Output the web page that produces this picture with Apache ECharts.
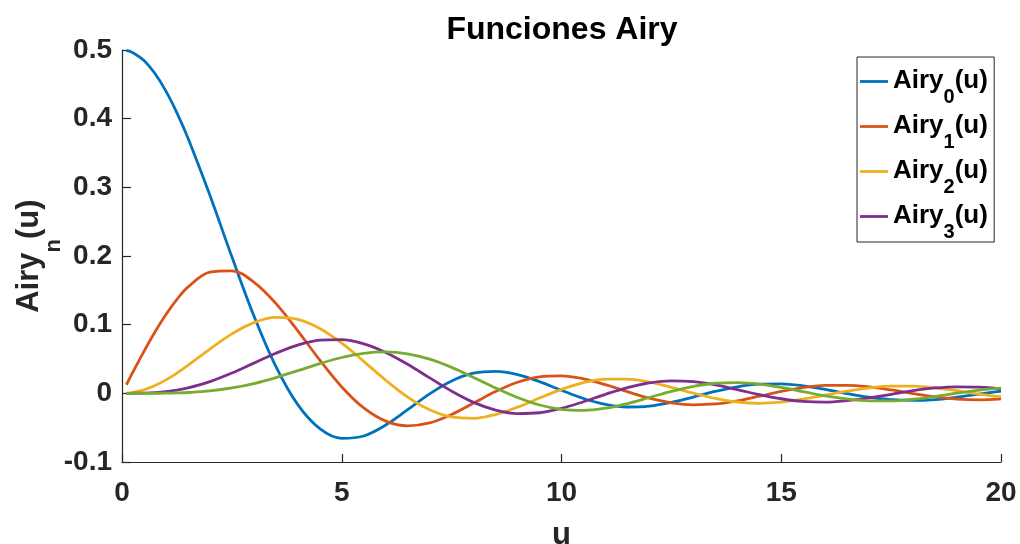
<!DOCTYPE html>
<html>
<head>
<meta charset="utf-8">
<script src="https://cdn.jsdelivr.net/npm/echarts@6/dist/echarts.min.js"></script>
<style>html,body{margin:0;padding:0;background:#fff;}#c{width:1020px;height:544px;}</style>
</head>
<body>
<div id="c"></div>
<script>
const u = [0.1,0.25,0.5,0.75,1,1.25,1.5,2,2.5,3,3.5,4,4.5,5,5.5,6,6.5,7,7.5,8,8.5,9,9.5,10,10.5,11,11.5,12,12.5,13,13.5,14,14.5,15,15.5,16,16.5,17,17.5,18,18.5,19,19.5,20];
const airy0 = [0.4994,0.4961,0.4846,0.4657,0.4401,0.4085,0.3719,0.2884,0.1988,0.1130,0.0393,-0.0165,-0.0514,-0.0655,-0.0621,-0.0461,-0.0237,-0.0007,0.0180,0.0293,0.0321,0.0273,0.0170,0.0044,-0.0075,-0.0161,-0.0199,-0.0186,-0.0132,-0.0054,0.0028,0.0095,0.0133,0.0137,0.0108,0.0057,-0.0003,-0.0057,-0.0093,-0.0104,-0.0091,-0.0056,-0.0010,0.0033];
const airy1 = [0.0125,0.0311,0.0612,0.0894,0.1149,0.1369,0.1547,0.1764,0.1784,0.1620,0.1310,0.0910,0.0484,0.0093,-0.0213,-0.0405,-0.0473,-0.0431,-0.0307,-0.0141,0.0026,0.0161,0.0240,0.0255,0.0211,0.0126,0.0024,-0.0071,-0.0139,-0.0167,-0.0155,-0.0109,-0.0042,0.0028,0.0084,0.0116,0.0116,0.0093,0.0049,-0.0004,-0.0052,-0.0083,-0.0094,-0.0080];
const airy2 = [0.0002,0.0013,0.0051,0.0113,0.0196,0.0295,0.0407,0.0645,0.0866,0.1030,0.1105,0.1076,0.0944,0.0730,0.0466,0.0191,-0.0054,-0.0239,-0.0344,-0.0364,-0.0309,-0.0201,-0.0069,0.0058,0.0156,0.0207,0.0207,0.0163,0.0088,0.0003,-0.0074,-0.0126,-0.0145,-0.0129,-0.0086,-0.0027,0.0031,0.0079,0.0105,0.0104,0.0080,0.0038,-0.0010,-0.0049];
const airy3 = [0.0000,0.0001,0.0003,0.0011,0.0025,0.0047,0.0078,0.0170,0.0295,0.0440,0.0584,0.0703,0.0774,0.0782,0.0721,0.0596,0.0423,0.0225,0.0032,-0.0132,-0.0244,-0.0295,-0.0283,-0.0220,-0.0122,-0.0014,0.0084,0.0152,0.0181,0.0169,0.0122,0.0054,-0.0018,-0.0079,-0.0118,-0.0127,-0.0105,-0.0065,-0.0014,0.0039,0.0078,0.0095,0.0091,0.0065];
const airy4 = [0.0000,0.0000,0.0000,0.0001,0.0002,0.0006,0.0012,0.0035,0.0078,0.0143,0.0230,0.0330,0.0433,0.0522,0.0583,0.0603,0.0575,0.0497,0.0378,0.0232,0.0079,-0.0061,-0.0170,-0.0234,-0.0249,-0.0217,-0.0149,-0.0061,0.0028,0.0101,0.0147,0.0157,0.0135,0.0087,0.0025,-0.0036,-0.0082,-0.0110,-0.0111,-0.0086,-0.0046,0.0002,0.0047,0.0076];
const seriesNames = ['Airy0(u)','Airy1(u)','Airy2(u)','Airy3(u)','Airy4(u)'];
const legendNames = ['Airy0(u)','Airy1(u)','Airy2(u)','Airy3(u)'];
const colors = ['#0072BD','#D95319','#EDB120','#7E2F8E','#77AC30'];
const xTicks = [0,5,10,15,20];

const FONT = "'Liberation Sans', Arial, Helvetica, sans-serif";
const AX = '#262626';
const allData = [airy0, airy1, airy2, airy3, airy4];

const chart = echarts.init(document.getElementById('c'), null, {renderer: 'canvas'});
const option = {
  animation: false,
  backgroundColor: '#fff',
  title: {
    text: 'Funciones Airy',
    left: 557, top: 9, textAlign: 'center',
    textStyle: {fontFamily: FONT, fontSize: 32, fontWeight: 'bold', color: '#000'}
  },
  grid: {left: 122, right: 19, top: 50, bottom: 82, containLabel: false, outerBoundsMode: 'none'},
  legend: {
    data: legendNames,
    orient: 'vertical',
    left: 857, top: 57,
    padding: [8, 6, 0, 3],
    itemGap: 3,
    itemWidth: 28, itemHeight: 2.8,
    icon: 'rect',
    backgroundColor: '#fff',
    borderColor: AX, borderWidth: 1, borderRadius: 0,
    formatter: function (name) {
      const sub = name.charAt(4);
      return '{a|Airy}{s|' + sub + '}{a|(u)}{h| }';
    },
    textStyle: {
      fontFamily: FONT, color: '#000',
      rich: {
        a: {fontFamily: FONT, fontSize: 26, fontWeight: 'bold', color: '#000', lineHeight: 33, verticalAlign: 'top', padding: [3, 0, 0, 0]},
        s: {fontFamily: FONT, fontSize: 20, fontWeight: 'bold', color: '#000', lineHeight: 10, verticalAlign: 'top', padding: [22, 0, 0, 0]},
        h: {fontSize: 1, lineHeight: 33, verticalAlign: 'bottom'}
      }
    }
  },
  xAxis: {
    type: 'value', min: 0, max: 20, interval: 5,
    name: 'u', nameLocation: 'middle', nameGap: 58, nameMoveOverlap: false,
    nameTextStyle: {fontFamily: FONT, fontSize: 31, fontWeight: 'bold', color: AX},
    axisLine: {show: true, onZero: false, lineStyle: {color: AX, width: 1.2}},
    axisTick: {show: true, inside: true, length: 8, lineStyle: {color: AX, width: 1.2}},
    axisLabel: {margin: 17, fontFamily: FONT, fontSize: 28, fontWeight: 'bold', color: AX,
      formatter: function (v) { return xTicks.indexOf(v) >= 0 ? String(v) : ''; }},
    splitLine: {show: false}
  },
  yAxis: {
    type: 'value', min: -0.1, max: 0.5, interval: 0.1,
    name: '{a|Airy}{s|n}{a|(u)}{h| }', nameLocation: 'middle', nameGap: 57, nameRotate: 90, nameMoveOverlap: false,
    nameTextStyle: {
      fontFamily: FONT, fontSize: 31, fontWeight: 'bold', color: AX,
      rich: {
        a: {fontFamily: FONT, fontSize: 31, fontWeight: 'bold', color: AX, lineHeight: 36, verticalAlign: 'top'},
        s: {fontFamily: FONT, fontSize: 22, fontWeight: 'bold', color: AX, lineHeight: 20, verticalAlign: 'bottom'},
        h: {fontSize: 1, lineHeight: 51, verticalAlign: 'bottom'}
      }
    },
    axisLine: {show: true, lineStyle: {color: AX, width: 1.2}},
    axisTick: {show: true, inside: true, length: 9, lineStyle: {color: AX, width: 1.2}},
    axisLabel: {margin: 10, fontFamily: FONT, fontSize: 28, fontWeight: 'bold', color: AX,
      formatter: function (v) { const r = Math.round(v * 10) / 10; return r === 0 ? '0' : String(r); }},
    splitLine: {show: false}
  },
  series: seriesNames.map(function (nm, i) {
    return {
      name: nm, type: 'line', symbol: 'none', showSymbol: false,
      smooth: 0.35, smoothConstraint: false,
      lineStyle: {color: colors[i], width: 2.8},
      itemStyle: {color: colors[i]},
      data: u.map(function (x, k) { return [x, allData[i][k]]; }),
      z: 2 + i
    };
  })
};
chart.setOption(option);
</script>
</body>
</html>
